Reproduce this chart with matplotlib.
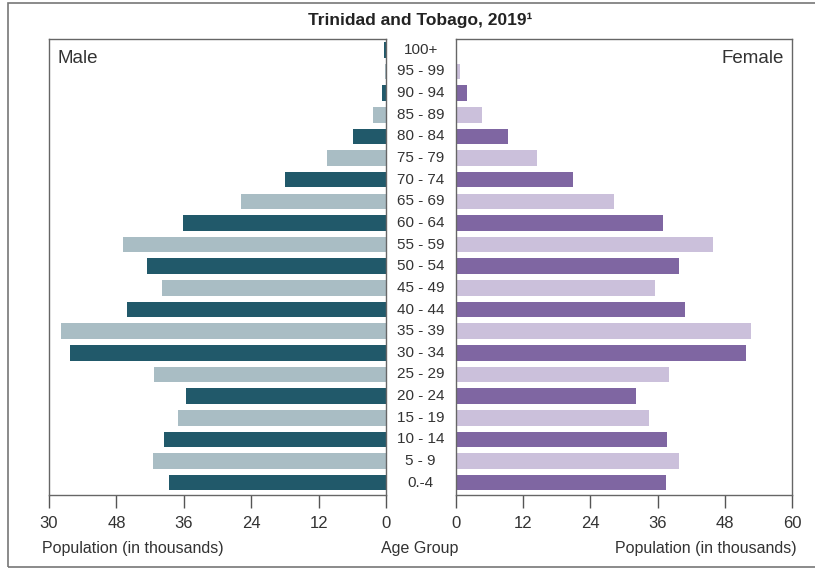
import matplotlib.pyplot as plt
from matplotlib import font_manager
from matplotlib.patches import Rectangle

# Age groups, bottom to top
age_groups = ["0.-4", "5 - 9", "10 - 14", "15 - 19", "20 - 24", "25 - 29", "30 - 34",
              "35 - 39", "40 - 44", "45 - 49", "50 - 54", "55 - 59", "60 - 64", "65 - 69",
              "70 - 74", "75 - 79", "80 - 84", "85 - 89", "90 - 94", "95 - 99", "100+"]

# Population in thousands
male = [38.6, 41.5, 39.5, 37.0, 35.6, 41.3, 56.3, 57.9, 46.1, 39.9, 42.5, 46.8, 36.1,
        25.8, 17.9, 10.5, 5.8, 2.3, 0.8, 0.2, 0.3]
female = [37.5, 39.8, 37.6, 34.4, 32.1, 38.0, 51.7, 52.6, 40.9, 35.5, 39.8, 45.9, 37.0,
          28.2, 20.9, 14.5, 9.3, 4.7, 2.0, 0.8, 0.3]

male_ticks = [60, 48, 36, 24, 12, 0]
male_tick_labels = ["30", "48", "36", "24", "12", "0"]
female_ticks = [0, 12, 24, 36, 48, 60]
female_tick_labels = ["0", "12", "24", "36", "48", "60"]

male_colors = ["#21596a", "#a9bdc4"]
female_colors = ["#7f66a2", "#cbc0db"]

# Narrow font if available
names = {f.name for f in font_manager.fontManager.ttflist}
font = "Liberation Sans Narrow" if "Liberation Sans Narrow" in names else "Liberation Sans"
plt.rcParams["font.family"] = [font, "DejaVu Sans"]
text_color = "#333333"

fig = plt.figure(figsize=(8.15, 5.69), dpi=100)
# outer frame, open on the right (runs past the image edge)
fig.patches.append(Rectangle((8 / 815, 2 / 569), 820 / 815, 564 / 569, transform=fig.transFigure,
                             fill=False, edgecolor="#777777", linewidth=1.2))

ax_m = fig.add_axes([49 / 815, 74 / 569, 337 / 815, 456 / 569])
ax_f = fig.add_axes([455.7 / 815, 74 / 569, 336.6 / 815, 456 / 569])

y = list(range(len(age_groups)))
ax_m.barh(y, male, height=0.72, color=[male_colors[i % 2] for i in y])
ax_f.barh(y, female, height=0.72, color=[female_colors[i % 2] for i in y])

ax_m.set_xlim(60, 0)
ax_f.set_xlim(0, 60)
for ax in (ax_m, ax_f):
    ax.set_ylim(-0.57, 20.5)
    ax.set_yticks([])
    for s in ax.spines.values():
        s.set_color("#666666")
        s.set_linewidth(1.0)
    ax.tick_params(axis="x", direction="out", length=9, width=1.0, color="#555555",
                   labelsize=12, labelcolor=text_color, pad=6)

ax_m.set_xticks(male_ticks)
ax_m.set_xticklabels(male_tick_labels)
ax_f.set_xticks(female_ticks)
ax_f.set_xticklabels(female_tick_labels)

# Age group labels in the gap between the two panels
for i, lab in enumerate(age_groups):
    ax_m.annotate(lab, xy=(1.103, i), xycoords=("axes fraction", "data"), ha="center", va="center",
                  fontsize=11, color=text_color)

ax_m.text(0.025, 0.975, "Male", transform=ax_m.transAxes, ha="left", va="top", fontsize=13.5, color=text_color)
ax_f.text(0.975, 0.975, "Female", transform=ax_f.transAxes, ha="right", va="top", fontsize=13.5, color=text_color)

fig.text(42 / 815, 1 - 548 / 569, "Population (in thousands)", ha="left", va="center", fontsize=11.5, color=text_color)
fig.text(420 / 815, 1 - 548 / 569, "Age Group", ha="center", va="center", fontsize=11.5, color=text_color)
fig.text(797 / 815, 1 - 548 / 569, "Population (in thousands)", ha="right", va="center", fontsize=11.5, color=text_color)

fig.text(420 / 815, 1 - 20 / 569, "Trinidad and Tobago, 2019¹", ha="center", va="center",
         fontsize=12.5, fontweight="bold", color="#222222")

fig.savefig("out.png", dpi=100)
